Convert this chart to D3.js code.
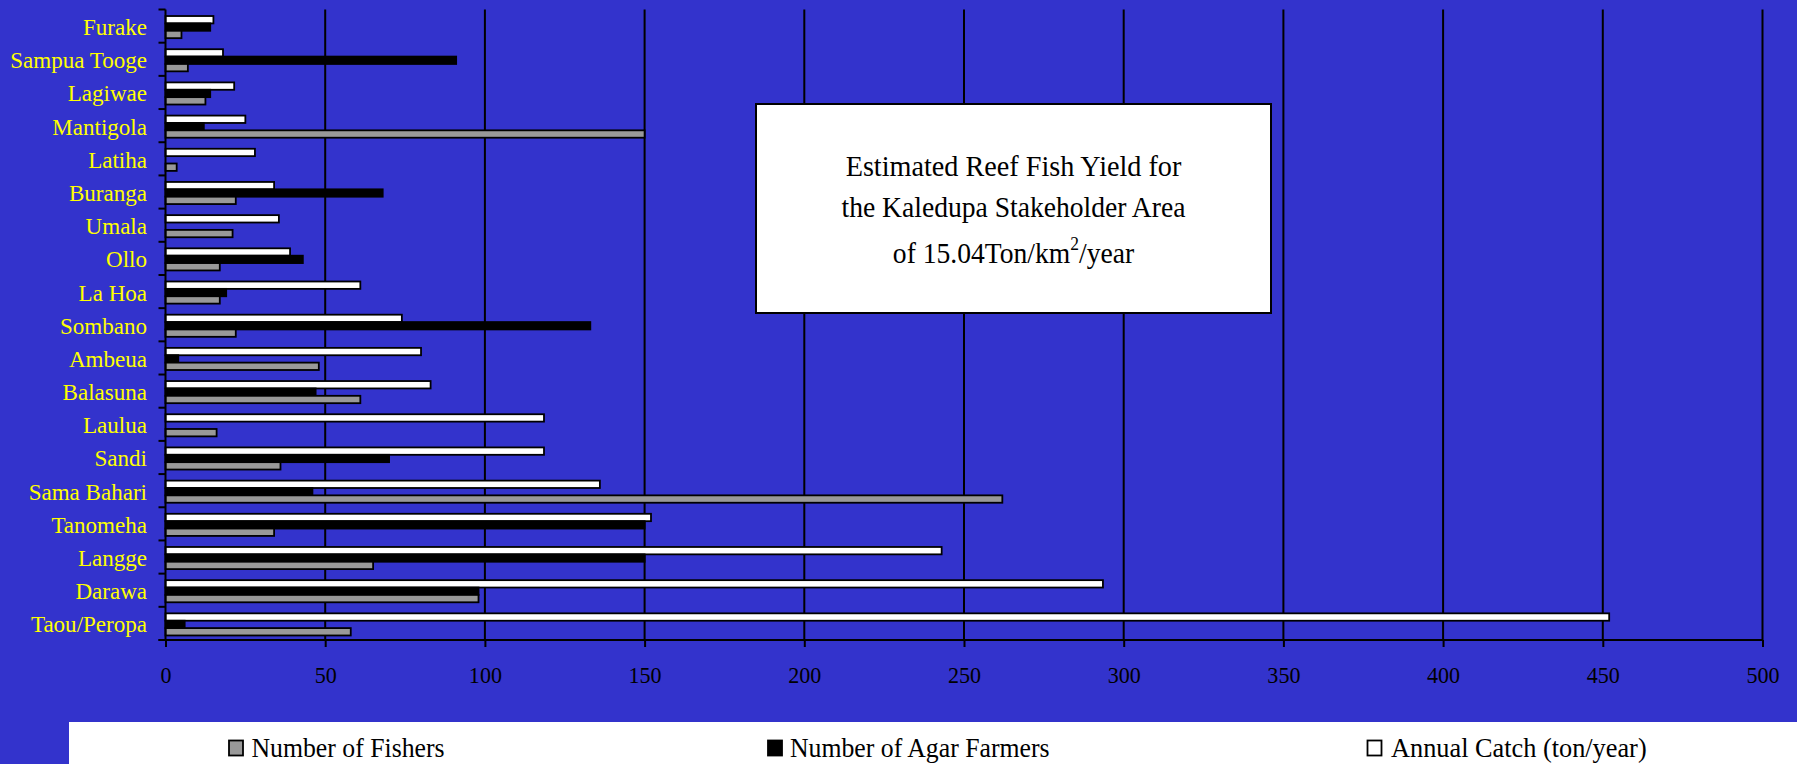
<!DOCTYPE html>
<html>
<head>
<meta charset="utf-8">
<script src="https://cdn.jsdelivr.net/npm/d3@7/dist/d3.min.js"></script>
<style>
  html, body { margin: 0; padding: 0; background: #3333cc; }
  svg { display: block; }
  text { font-family: "Liberation Serif", "Times New Roman", serif; }
</style>
</head>
<body>
<svg id="chart" width="1797" height="764"></svg>
<script>
// Villages, listed top to bottom as they appear on the vertical axis
const categories = ["Furake", "Sampua Tooge", "Lagiwae", "Mantigola", "Latiha", "Buranga",
  "Umala", "Ollo", "La Hoa", "Sombano", "Ambeua", "Balasuna", "Laulua", "Sandi",
  "Sama Bahari", "Tanomeha", "Langge", "Darawa", "Taou/Peropa"];

// Series values, same order as categories
const fishers = [5, 7, 12.5, 150, 3.5, 22, 21, 17, 17, 22, 48, 61, 16, 36, 262, 34, 65, 98, 58];
const agarFarmers = [14, 91, 14, 12, 0, 68, 0, 43, 19, 133, 4, 47, 0, 70, 46, 150, 150, 98, 6];
const annualCatch = [15, 18, 21.5, 25, 28, 34, 35.5, 39, 61, 74, 80, 83, 118.5, 118.5, 136, 152, 243, 293.5, 452];

const seriesNames = ["Number of Fishers", "Number of Agar Farmers", "Annual Catch (ton/year)"];
const xTicks = [0, 50, 100, 150, 200, 250, 300, 350, 400, 450, 500];
const titleLines = ["Estimated Reef Fish Yield for", "the Kaledupa Stakeholder Area"];

const series = [
  { key: "catch", name: seriesNames[2], values: annualCatch, fill: "#ffffff" },
  { key: "agar", name: seriesNames[1], values: agarFarmers, fill: "#000000" },
  { key: "fishers", name: seriesNames[0], values: fishers, fill: "#999999" }
];

const svg = d3.select("#chart");
const W = 1797, H = 764;
const plot = { left: 165.5, right: 1762.5, top: 9.5, bottom: 640 };
const squeeze = "scale(0.92,1)";

svg.append("rect").attr("width", W).attr("height", H).attr("fill", "#3333cc");

const x = d3.scaleLinear().domain([0, 500]).range([plot.left, plot.right]);
const y = d3.scaleBand().domain(categories).range([plot.top, plot.bottom]).padding(0);
const sub = d3.scaleBand().domain(series.map(s => s.key))
  .range([0, y.bandwidth()]).paddingInner(0).paddingOuter(0.75);

// vertical gridlines
svg.append("g").selectAll("line")
  .data(xTicks.filter(t => t > 0))
  .join("line")
  .attr("x1", d => x(d)).attr("x2", d => x(d))
  .attr("y1", plot.top).attr("y2", plot.bottom)
  .attr("stroke", "#000").attr("stroke-width", 2);

// bars
const rows = svg.append("g").selectAll("g")
  .data(categories)
  .join("g")
  .attr("transform", d => `translate(0,${y(d) + 1})`);

rows.selectAll("rect")
  .data((c, i) => series.map(s => ({ key: s.key, fill: s.fill, v: s.values[i] })))
  .join("rect")
  .attr("x", x(0))
  .attr("y", d => sub(d.key))
  .attr("width", d => Math.max(0, x(d.v) - x(0)))
  .attr("height", sub.bandwidth())
  .attr("fill", d => d.fill)
  .attr("stroke", "#000")
  .attr("stroke-width", d => d.v > 0 ? 1.8 : 0);

// x axis
const xAxis = svg.append("g")
  .attr("transform", `translate(0,${plot.bottom})`)
  .call(d3.axisBottom(x).tickValues(xTicks).tickSize(7).tickSizeOuter(0).tickFormat(d3.format("d")));
xAxis.select(".domain").attr("stroke", "#000").attr("stroke-width", 2)
  .attr("d", `M${plot.left - 7},0H${plot.right}`);
xAxis.selectAll(".tick line").attr("stroke", "#000").attr("stroke-width", 2);
xAxis.selectAll(".tick text")
  .attr("y", 43).attr("dy", 0)
  .attr("transform", squeeze)
  .attr("fill", "#000")
  .style("font-family", "'Liberation Serif', serif")
  .style("font-size", "24px");

// y axis with category labels
const yAxis = svg.append("g")
  .attr("transform", `translate(${plot.left},0)`)
  .call(d3.axisLeft(y).tickSize(0).tickSizeOuter(0));
yAxis.select(".domain").attr("stroke", "#000").attr("stroke-width", 2)
  .attr("d", `M0,${plot.top}V${plot.bottom}`);
yAxis.selectAll(".tick text")
  .attr("x", 0).attr("dy", 0)
  .attr("transform", "translate(-18.5,9) scale(0.96,1)")
  .attr("text-anchor", "end")
  .attr("fill", "#ffff00")
  .style("font-family", "'Liberation Serif', serif")
  .style("font-size", "24px");

// tick marks on category boundaries
const boundaries = categories.map(c => y(c)).concat([plot.bottom]);
svg.append("g").selectAll("line")
  .data(boundaries)
  .join("line")
  .attr("x1", plot.left - 7).attr("x2", plot.left)
  .attr("y1", d => d).attr("y2", d => d)
  .attr("stroke", "#000").attr("stroke-width", 2);

// title box
const tb = { x: 756, y: 104, w: 515, h: 209 };
svg.append("rect")
  .attr("x", tb.x).attr("y", tb.y).attr("width", tb.w).attr("height", tb.h)
  .attr("fill", "#fff").attr("stroke", "#000").attr("stroke-width", 2);
const tcx = tb.x + tb.w / 2;
const titleG = svg.append("g");
[[176, 0.94], [217, 0.92]].forEach(([by, sx], i) => {
  titleG.append("text")
    .attr("transform", `translate(${tcx},${by}) scale(${sx},1)`)
    .attr("text-anchor", "middle")
    .attr("font-size", 30)
    .attr("fill", "#000")
    .text(titleLines[i]);
});
const t3 = titleG.append("text")
  .attr("transform", `translate(${tcx},263) ${squeeze}`)
  .attr("text-anchor", "middle")
  .attr("font-size", 30)
  .attr("fill", "#000");
t3.append("tspan").text("of 15.04Ton/km");
t3.append("tspan").attr("font-size", 19).attr("dy", -13).text("2");
t3.append("tspan").attr("dy", 13).text("/year");

// legend
svg.append("rect").attr("x", 69).attr("y", 722).attr("width", W - 69).attr("height", H - 722)
  .attr("fill", "#fff");
const legendItems = [
  { name: seriesNames[0], fill: "#999999", sx: 229, tx: 251.5, k: 0.92 },
  { name: seriesNames[1], fill: "#000000", sx: 768, tx: 790, k: 0.92 },
  { name: seriesNames[2], fill: "#ffffff", sx: 1367.5, tx: 1391, k: 0.94 }
];
const lg = svg.append("g").selectAll("g").data(legendItems).join("g");
lg.append("rect")
  .attr("x", d => d.sx).attr("y", 740.5).attr("width", 14).attr("height", 15)
  .attr("fill", d => d.fill).attr("stroke", "#000").attr("stroke-width", 1.8);
lg.append("text")
  .attr("transform", d => `translate(${d.tx},756.5) scale(${d.k},1)`)
  .attr("font-size", 28)
  .attr("fill", "#000")
  .text(d => d.name);
</script>
</body>
</html>
